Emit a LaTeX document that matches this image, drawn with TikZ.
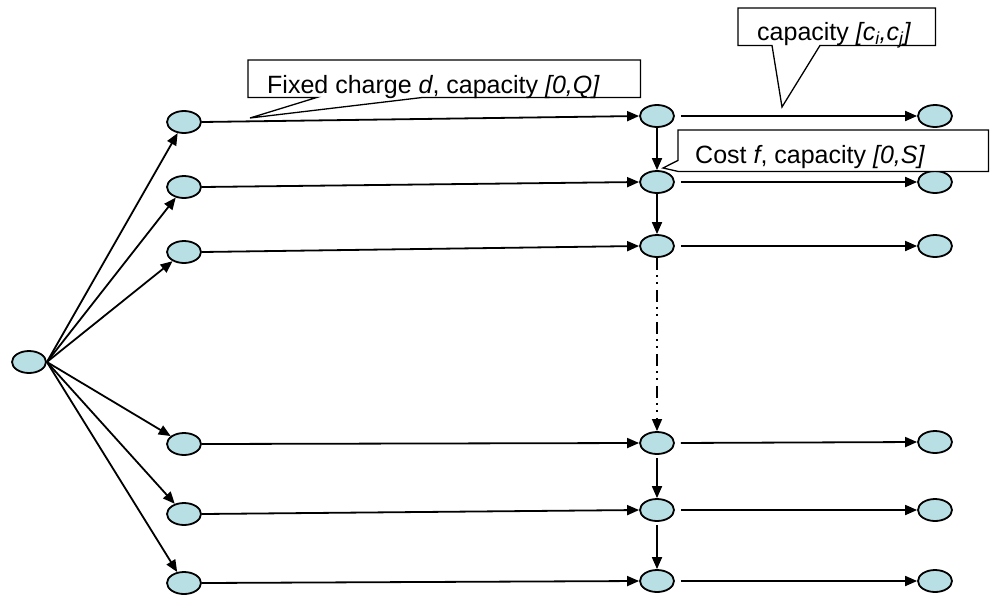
\documentclass[tikz,border=0pt]{standalone}
\usepackage{fontspec}
\setmainfont{Liberation Sans}
\usetikzlibrary{arrows.meta,shapes.geometric}
\definecolor{nodefill}{RGB}{183,223,228}
\tikzset{
  vert/.style={ellipse, draw, line width=1.8pt, fill=nodefill,
    minimum width=34pt, minimum height=22pt, inner sep=0pt},
  arc/.style={-{Triangle[length=12pt,width=10pt]}, line width=1.8pt},
  gaparc/.style={arc, shorten <=6pt},
  dotarc/.style={arc, line width=1.3pt,
    dash pattern=on 12pt off 5pt on 2pt off 5pt on 2pt off 6pt},
  boxline/.style={line width=1.3pt, fill=white},
  labeltext/.style={anchor=base west, inner sep=0pt,
    font=\fontsize{25}{30}\selectfont}
}
\begin{document}
\begin{tikzpicture}[x=1pt,y=-1pt]
   \useasboundingbox (0,0) rectangle (990,603);
   % source
   \node[vert] (src) at (29,362) {};
   % first column
   \node[vert] (l1) at (184,122) {};
   \node[vert] (l2) at (184,187) {};
   \node[vert] (l3) at (184,252) {};
   \node[vert] (l4) at (184,444) {};
   \node[vert] (l5) at (184,514) {};
   \node[vert] (l6) at (184,583) {};
   % second column
   \node[vert] (m1) at (657,116) {};
   \node[vert] (m2) at (657,182) {};
   \node[vert] (m3) at (657,246) {};
   \node[vert] (m4) at (657,443) {};
   \node[vert] (m5) at (657,510) {};
   \node[vert] (m6) at (657,581) {};
   % third column
   \node[vert] (r1) at (935,116) {};
   \node[vert] (r2) at (935,182) {};
   \node[vert] (r3) at (935,246) {};
   \node[vert] (r4) at (935,442) {};
   \node[vert] (r5) at (935,510) {};
   \node[vert] (r6) at (935,581) {};
   % source to first column
   \draw[arc] (src.east) -- (l1);
   \draw[arc] (src.east) -- (l2);
   \draw[arc] (src.east) -- (l3);
   \draw[arc] (src.east) -- (l4);
   \draw[arc] (src.east) -- (l5);
   \draw[arc] (src.east) -- (l6);
   % first to second column
   \draw[arc] (l1.east) -- (m1.west);
   \draw[arc] (l2.east) -- (m2.west);
   \draw[arc] (l3.east) -- (m3.west);
   \draw[arc] (l4.east) -- (m4.west);
   \draw[arc] (l5.east) -- (m5.west);
   \draw[arc] (l6.east) -- (m6.west);
   % second to third column
   \draw[gaparc] (m1.east) -- (r1.west);
   \draw[gaparc] (m2.east) -- (r2.west);
   \draw[gaparc] (m3.east) -- (r3.west);
   \draw[gaparc] (m4.east) -- (r4.west);
   \draw[gaparc] (m5.east) -- (r5.west);
   \draw[gaparc] (m6.east) -- (r6.west);
   % down the second column
   \draw[arc] (m1) -- (m2);
   \draw[arc] (m2) -- (m3);
   \draw[dotarc] (m3) -- (m4);
   \draw[arc, shorten <=3pt] (m4) -- (m5);
   \draw[arc, shorten <=3pt] (m5) -- (m6);
   % callouts
   \coordinate (fixtip) at (250,118);
   \coordinate (captip) at (782,107);
   \coordinate (costip) at (663,168);
   \node[minimum width=392pt, minimum height=37pt, inner sep=0pt,
     anchor=north west] (fixbox) at (248,60) {};
   \node[minimum width=197pt, minimum height=37pt, inner sep=0pt,
     anchor=north west] (capbox) at (738,8) {};
   \node[minimum width=310pt, minimum height=41pt, inner sep=0pt,
     anchor=north west] (cosbox) at (678,130) {};
   \draw[boxline] (fixbox.south west) -- ([xshift=69pt]fixbox.south west)
     -- (fixtip) -- ([xshift=175pt]fixbox.south west) -- (fixbox.south east)
     -- (fixbox.north east) -- (fixbox.north west) -- cycle;
   \draw[boxline] (capbox.south west) -- ([xshift=34pt]capbox.south west)
     -- (captip) -- ([xshift=82pt]capbox.south west) -- (capbox.south east)
     -- (capbox.north east) -- (capbox.north west) -- cycle;
   \draw[boxline] (cosbox.north west) -- (cosbox.north east)
     -- (cosbox.south east) -- (cosbox.south west) -- (costip)
     -- ([yshift=11pt]cosbox.south west) -- cycle;
   \node[labeltext] (fixtext) at ([xshift=19pt,yshift=4pt]fixbox.south west)
     {Fixed charge \textit{d}, capacity \textit{[0,Q]}};
   \node[labeltext] (captext) at ([xshift=19pt,yshift=5pt]capbox.south west)
     {capacity \textit{[c\textsubscript{i},c\textsubscript{j}]}};
   \node[labeltext] (costext) at ([xshift=17pt,yshift=8pt]cosbox.south west)
     {Cost \textit{f}, capacity \textit{[0,S]}};
\end{tikzpicture}
\end{document}
